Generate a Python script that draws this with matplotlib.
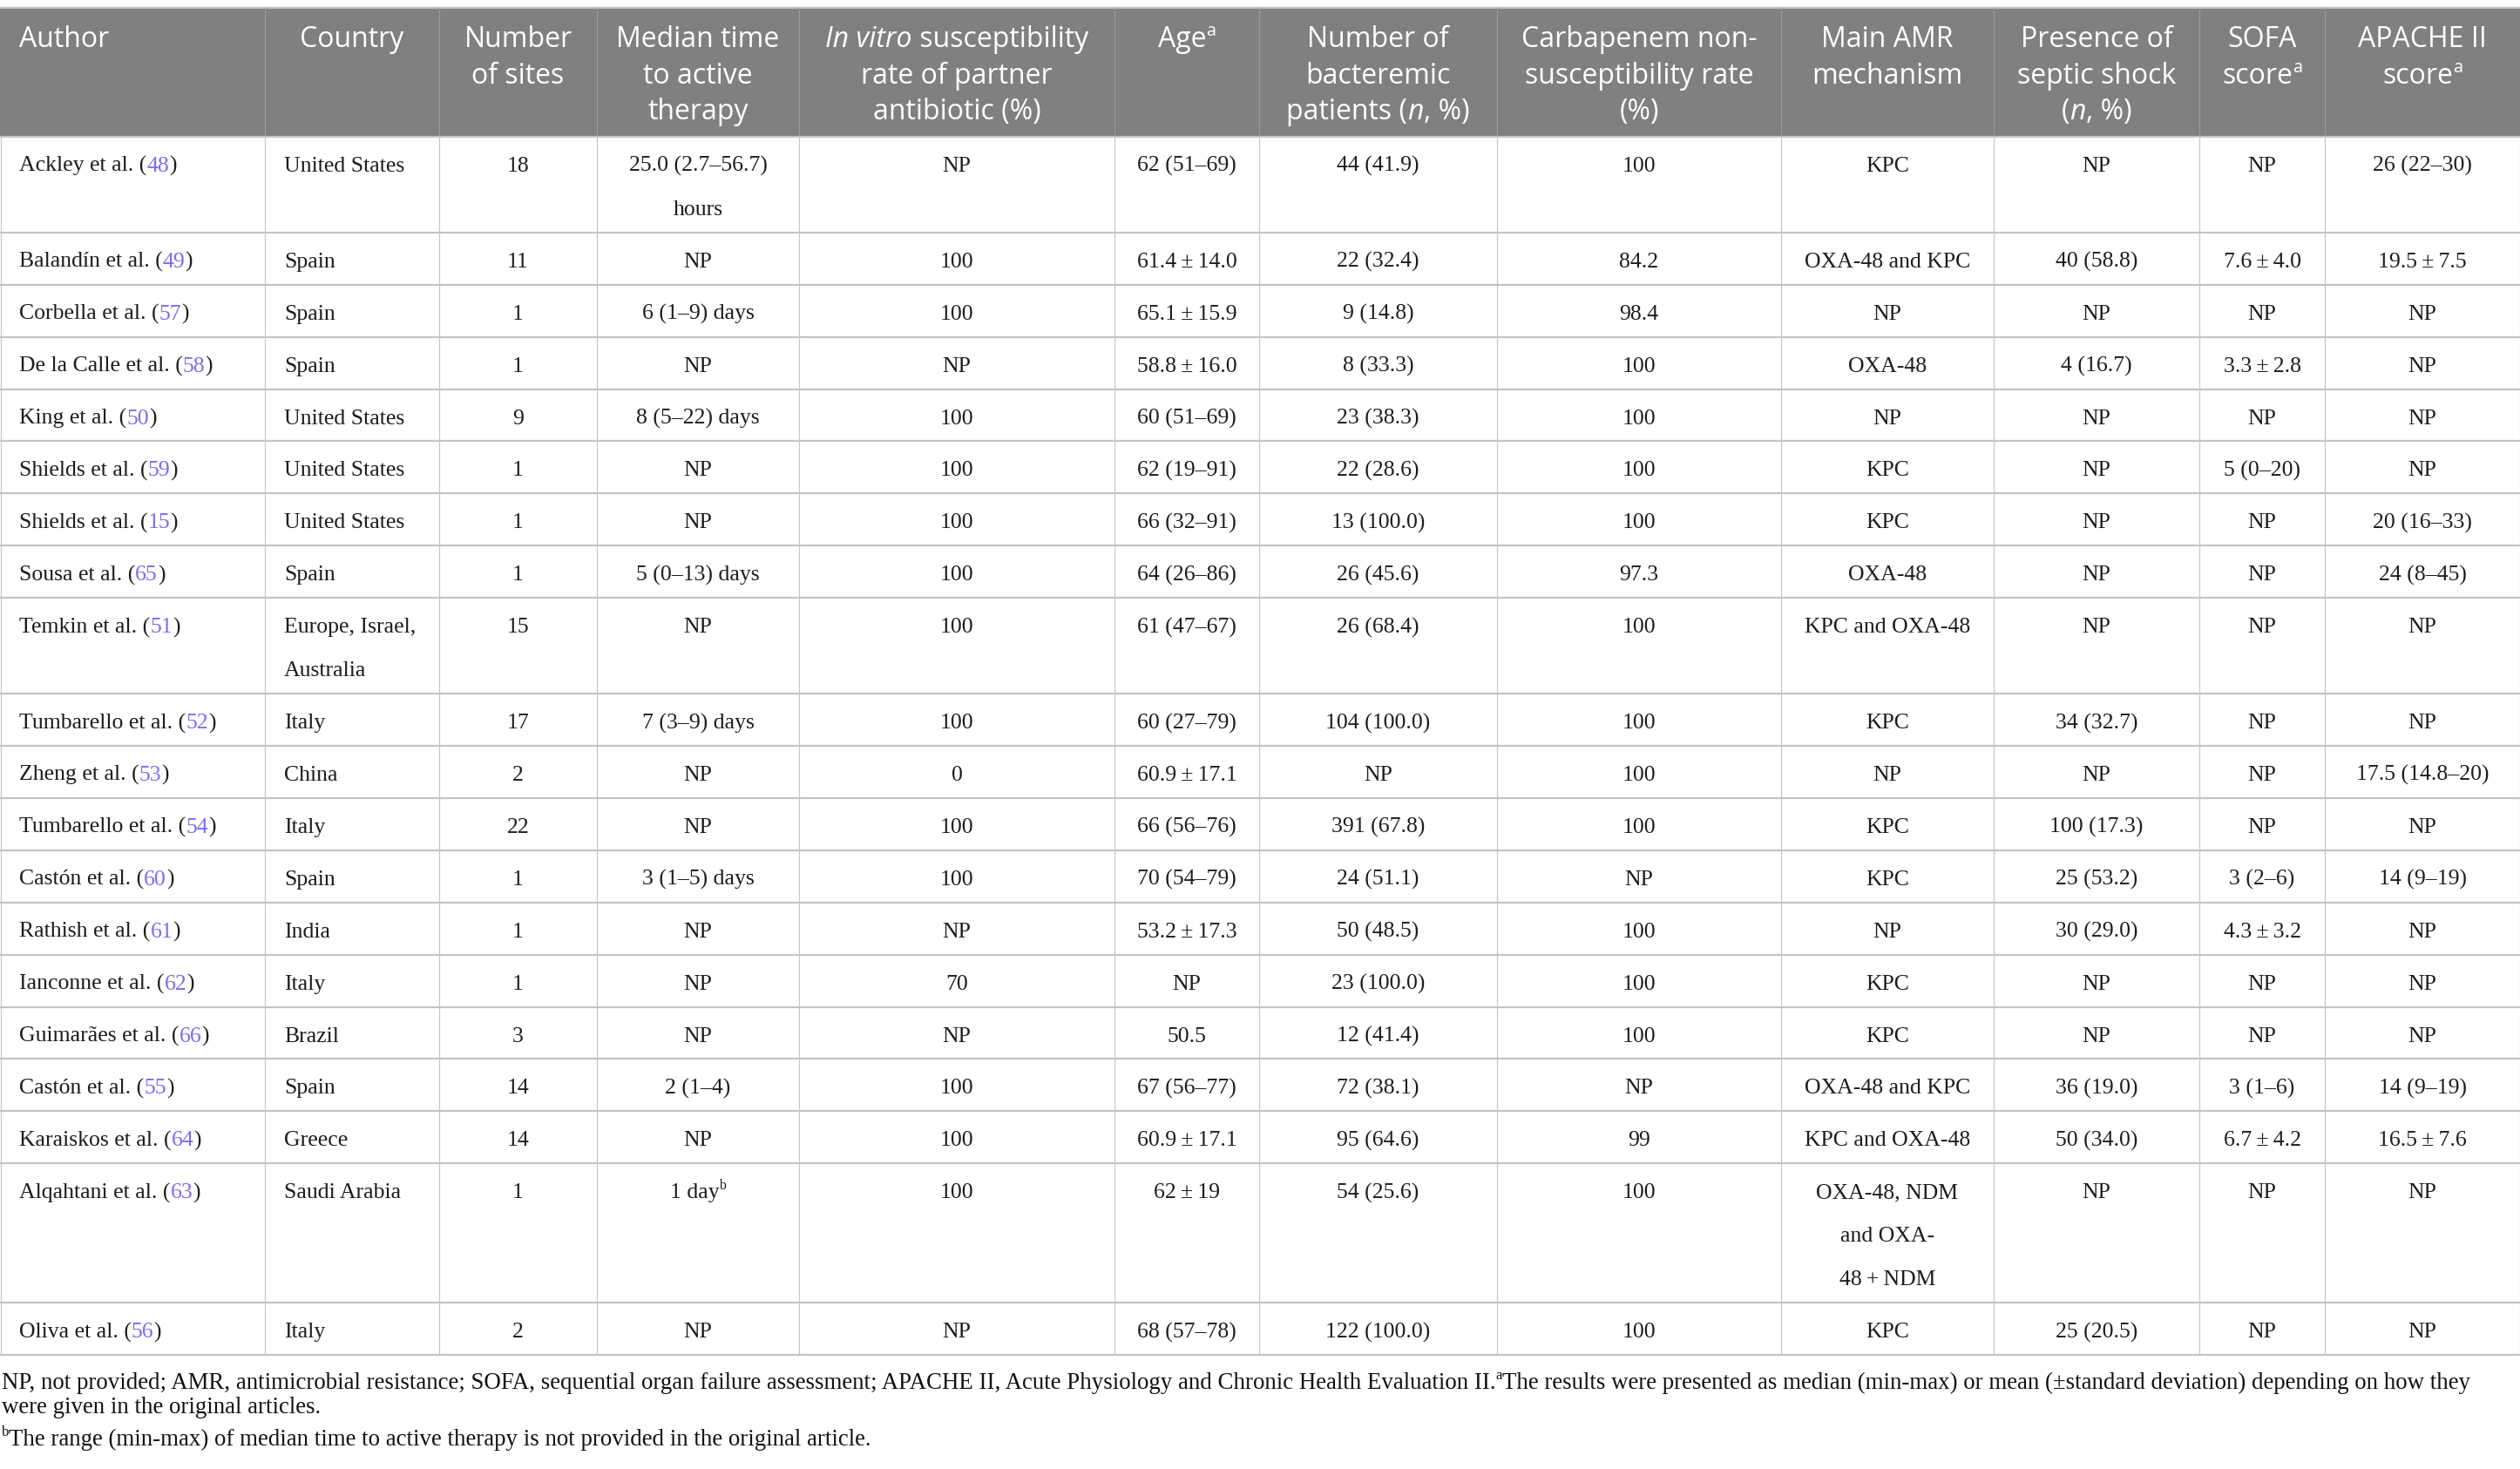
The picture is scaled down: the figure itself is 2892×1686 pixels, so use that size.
"""Table of study characteristics, drawn with matplotlib."""

import re

import matplotlib

matplotlib.use("Agg")
import matplotlib.pyplot as plt
from matplotlib.patches import Rectangle

W, H = 2892, 1686
DPI = 100

HEAD_FONT = ["Open Sans", "DejaVu Sans"]
BODY_FONT = ["Liberation Serif", "DejaVu Serif"]
HEAD_BG = "#808080"
GRID = "#c4c4c4"
LINK = "#7a6cf0"
INK = "#1c1c1c"
PM = "\u2009±\u2009"

# ---- data -----------------------------------------------------------------
headers = [
    ["Author"],
    ["Country"],
    ["Number", "of sites"],
    ["Median time", "to active", "therapy"],
    ["*In vitro* susceptibility", "rate of partner", "antibiotic (%)"],
    ["Age^a^"],
    ["Number of", "bacteremic", "patients (*n*, %)"],
    ["Carbapenem non-", "susceptibility rate", "(%)"],
    ["Main AMR", "mechanism"],
    ["Presence of", "septic shock", "(*n*, %)"],
    ["SOFA", "score^a^"],
    ["APACHE II", "score^a^"],
]

authors = [
    "Ackley et al.", "Balandín et al.", "Corbella et al.", "De la Calle et al.",
    "King et al.", "Shields et al.", "Shields et al.", "Sousa et al.",
    "Temkin et al.", "Tumbarello et al.", "Zheng et al.", "Tumbarello et al.",
    "Castón et al.", "Rathish et al.", "Ianconne et al.", "Guimarães et al.",
    "Castón et al.", "Karaiskos et al.", "Alqahtani et al.", "Oliva et al.",
]
refs = ["48", "49", "57", "58", "50", "59", "15", "65", "51", "52",
        "53", "54", "60", "61", "62", "66", "55", "64", "63", "56"]
countries = [
    "United States", "Spain", "Spain", "Spain", "United States",
    "United States", "United States", "Spain", "Europe, Israel,\nAustralia",
    "Italy", "China", "Italy", "Spain", "India", "Italy", "Brazil", "Spain",
    "Greece", "Saudi Arabia", "Italy",
]
sites = ["18", "11", "1", "1", "9", "1", "1", "1", "15", "17",
         "2", "22", "1", "1", "1", "3", "14", "14", "1", "2"]
median_time = [
    "25.0 (2.7–56.7)\nhours", "NP", "6 (1–9) days", "NP", "8 (5–22) days",
    "NP", "NP", "5 (0–13) days", "NP", "7 (3–9) days", "NP", "NP",
    "3 (1–5) days", "NP", "NP", "NP", "2 (1–4)", "NP", "1 day^b^", "NP",
]
in_vitro = ["NP", "100", "100", "NP", "100", "100", "100", "100", "100", "100",
            "0", "100", "100", "NP", "70", "NP", "100", "100", "100", "NP"]
age = [
    "62 (51–69)", "61.4" + PM + "14.0", "65.1" + PM + "15.9", "58.8" + PM + "16.0",
    "60 (51–69)", "62 (19–91)", "66 (32–91)", "64 (26–86)", "61 (47–67)",
    "60 (27–79)", "60.9" + PM + "17.1", "66 (56–76)", "70 (54–79)",
    "53.2" + PM + "17.3", "NP", "50.5", "67 (56–77)", "60.9" + PM + "17.1",
    "62" + PM + "19", "68 (57–78)",
]
bacteremic = [
    "44 (41.9)", "22 (32.4)", "9 (14.8)", "8 (33.3)", "23 (38.3)", "22 (28.6)",
    "13 (100.0)", "26 (45.6)", "26 (68.4)", "104 (100.0)", "NP", "391 (67.8)",
    "24 (51.1)", "50 (48.5)", "23 (100.0)", "12 (41.4)", "72 (38.1)",
    "95 (64.6)", "54 (25.6)", "122 (100.0)",
]
carbapenem = ["100", "84.2", "98.4", "100", "100", "100", "100", "97.3", "100",
              "100", "100", "100", "NP", "100", "100", "100", "NP", "99", "100",
              "100"]
amr = [
    "KPC", "OXA-48 and KPC", "NP", "OXA-48", "NP", "KPC", "KPC", "OXA-48",
    "KPC and OXA-48", "KPC", "NP", "KPC", "KPC", "NP", "KPC", "KPC",
    "OXA-48 and KPC", "KPC and OXA-48",
    "OXA-48, NDM\nand OXA-\n48\u2009+\u2009NDM",
    "KPC",
]
septic_shock = [
    "NP", "40 (58.8)", "NP", "4 (16.7)", "NP", "NP", "NP", "NP", "NP",
    "34 (32.7)", "NP", "100 (17.3)", "25 (53.2)", "30 (29.0)", "NP", "NP",
    "36 (19.0)", "50 (34.0)", "NP", "25 (20.5)",
]
sofa = [
    "NP", "7.6" + PM + "4.0", "NP", "3.3" + PM + "2.8", "NP", "5 (0–20)", "NP",
    "NP", "NP", "NP", "NP", "NP", "3 (2–6)", "4.3" + PM + "3.2", "NP", "NP",
    "3 (1–6)", "6.7" + PM + "4.2", "NP", "NP",
]
apache = [
    "26 (22–30)", "19.5" + PM + "7.5", "NP", "NP", "NP", "NP", "20 (16–33)",
    "24 (8–45)", "NP", "NP", "17.5 (14.8–20)", "NP", "14 (9–19)", "NP", "NP",
    "NP", "14 (9–19)", "16.5" + PM + "7.6", "NP", "NP",
]

footnotes = [
    "NP, not provided; AMR, antimicrobial resistance; SOFA, sequential organ "
    "failure assessment; APACHE II, Acute Physiology and Chronic Health "
    "Evaluation II.^a^The results were presented as median (min-max) or mean "
    "(±standard deviation) depending on how they",
    "were given in the original articles.",
    "^b^The range (min-max) of median time to active therapy is not provided "
    "in the original article.",
]

# ---- layout ---------------------------------------------------------------
col_edges = [0, 304, 504, 685, 917, 1279, 1445, 1718, 2044, 2288, 2524, 2668, 2892]
left_cols = {0, 1}
pad = 22
head_top, head_bot = 9, 157
head_base, head_step = 54, 41.5
row_base, row_step = 59.9, 50.0
body_size, head_size, foot_size = 18.5, 23, 19.4
foot_base = [1594, 1622, 1659]

TOKEN = re.compile(r"(\*[^*]+\*|\^[^^]+\^|\[[^\]]+\])")


def parse(markup):
    runs = []
    for piece in TOKEN.split(markup):
        if not piece:
            continue
        if piece.startswith("*"):
            runs.append((piece[1:-1], "it"))
        elif piece.startswith("^"):
            runs.append((piece[1:-1], "sup"))
        elif piece.startswith("["):
            runs.append((piece[1:-1], "link"))
        else:
            runs.append((piece, "plain"))
    return runs


def draw_line(ax, renderer, x, y, markup, align, font, size, color):
    placed = []
    for text, kind in parse(markup):
        fs = size * 0.62 if kind == "sup" else size
        t = ax.text(0, y, text, fontsize=fs, family=font,
                    style="italic" if kind == "it" else "normal",
                    color=LINK if kind == "link" else color,
                    ha="left", va="baseline")
        placed.append((t, kind, t.get_window_extent(renderer).width))
    total = sum(w for _, _, w in placed)
    cursor = x - total / 2 if align == "center" else x
    for t, kind, w in placed:
        lift = size * 0.40 * DPI / 72 if kind == "sup" else 0
        t.set_position((cursor, y - lift))
        cursor += w


columns = [
    [f"{a} ([{r}])" for a, r in zip(authors, refs)],
    countries, sites, median_time, in_vitro, age, bacteremic, carbapenem,
    amr, septic_shock, sofa, apache,
]
n_rows = len(authors)

fig = plt.figure(figsize=(W / DPI, H / DPI), dpi=DPI)
ax = fig.add_axes([0, 0, 1, 1])
ax.set_xlim(0, W)
ax.set_ylim(H, 0)
ax.axis("off")
renderer = fig.canvas.get_renderer()

# header
ax.add_patch(Rectangle((0, head_top), W, head_bot - head_top,
                       facecolor=HEAD_BG, edgecolor="none"))
ax.plot([0, W], [head_top - 0.5, head_top - 0.5], color=GRID, lw=1.6)
for ci, lines in enumerate(headers):
    x0, x1 = col_edges[ci], col_edges[ci + 1]
    if ci > 0:
        ax.plot([x0, x0], [head_top, head_bot], color="#9c9c9c", lw=0.8)
    align = "left" if ci == 0 else "center"
    xt = x0 + pad if align == "left" else (x0 + x1) / 2
    for li, line in enumerate(lines):
        draw_line(ax, renderer, xt, head_base + li * head_step,
                  line, align, HEAD_FONT, head_size, "white")

# body rows
top = head_bot
for ri in range(n_rows):
    cells = [col[ri].split("\n") for col in columns]
    n_lines = max(len(c) for c in cells)
    bottom = top + row_base + row_step * (n_lines - 1)
    for ci, lines in enumerate(cells):
        x0, x1 = col_edges[ci], col_edges[ci + 1]
        align = "left" if ci in left_cols else "center"
        xt = x0 + pad if align == "left" else (x0 + x1) / 2
        for li, line in enumerate(lines):
            draw_line(ax, renderer, xt, top + 40 + li * row_step, line,
                      align, BODY_FONT, body_size, INK)
    ax.plot([0, W], [bottom, bottom], color=GRID, lw=1.6)
    top = bottom

table_bottom = top
for x in col_edges:
    xx = min(max(x, 0.5), W - 0.5)
    ax.plot([xx, xx], [head_bot, table_bottom], color=GRID, lw=0.8)
ax.plot([0, W], [head_bot, head_bot], color=GRID, lw=1.6)

# footnotes
for y, line in zip(foot_base, footnotes):
    draw_line(ax, renderer, 2, y, line, "left", BODY_FONT, foot_size, "#111111")

fig.savefig("out.png", dpi=DPI, facecolor="white")
